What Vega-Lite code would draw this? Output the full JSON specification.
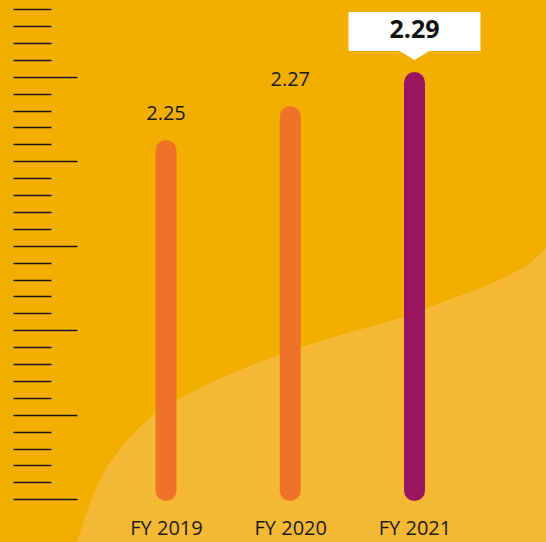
{
  "$schema": "https://vega.github.io/schema/vega-lite/v6.json",
  "width": 546,
  "height": 542,
  "autosize": "none",
  "padding": 0,
  "background": "#F3AF00",
  "config": {"view": {"stroke": null}, "font": "Open Sans"},
  "datasets": {
    "bars": [
      {"year": "FY 2019", "value": 2.25},
      {"year": "FY 2020", "value": 2.27},
      {"year": "FY 2021", "value": 2.29}
    ],
    "wave": [
      {"wx": 77, "wh": 0}, {"wx": 90, "wh": 39}, {"wx": 100, "wh": 62}, {"wx": 117, "wh": 89},
      {"wx": 137, "wh": 112}, {"wx": 157, "wh": 130}, {"wx": 177, "wh": 142}, {"wx": 210, "wh": 159},
      {"wx": 247, "wh": 175}, {"wx": 293, "wh": 192}, {"wx": 340, "wh": 207}, {"wx": 403, "wh": 225},
      {"wx": 440, "wh": 239}, {"wx": 475, "wh": 252}, {"wx": 507, "wh": 266}, {"wx": 530, "wh": 279},
      {"wx": 546, "wh": 294}
    ],
    "ruler": [
      {"k": 0}, {"k": 1}, {"k": 2}, {"k": 3}, {"k": 4}, {"k": 5}, {"k": 6}, {"k": 7}, {"k": 8}, {"k": 9},
      {"k": 10}, {"k": 11}, {"k": 12}, {"k": 13}, {"k": 14}, {"k": 15}, {"k": 16}, {"k": 17}, {"k": 18}, {"k": 19},
      {"k": 20}, {"k": 21}, {"k": 22}, {"k": 23}, {"k": 24}, {"k": 25}, {"k": 26}, {"k": 27}, {"k": 28}, {"k": 29}
    ]
  },
  "layer": [
    {
      "data": {"name": "wave"},
      "mark": {"type": "area", "color": "#F5B935", "interpolate": "monotone"},
      "encoding": {
        "x": {"field": "wx", "type": "quantitative", "scale": {"domain": [0, 546], "nice": false, "zero": false}, "axis": null},
        "y": {"field": "wh", "type": "quantitative", "scale": {"domain": [0, 542], "nice": false}, "axis": null},
        "y2": {"datum": 0}
      }
    },
    {
      "data": {"name": "ruler"},
      "mark": {"type": "rule", "opacity": 0},
      "encoding": {
        "y": {
          "field": "k", "type": "quantitative",
          "scale": {"domain": [-2.527, 29.544], "nice": false, "zero": false},
          "axis": {
            "orient": "right", "offset": -533, "title": null, "zindex": 1,
            "values": [0,1,2,3,4,5,6,7,8,9,10,11,12,13,14,15,16,17,18,19,20,21,22,23,24,25,26,27,28,29],
            "labels": false, "domain": false, "grid": false, "ticks": true,
            "tickColor": "#1a1a1a", "tickWidth": 1.6,
            "tickSize": {"condition": {"test": "datum.value % 5 === 0", "value": 64}, "value": 38}
          }
        }
      }
    },
    {
      "data": {"name": "bars"},
      "encoding": {
        "x": {
          "field": "year", "type": "ordinal",
          "scale": {"type": "point", "range": [166, 414.5], "padding": 0},
          "axis": {
            "orient": "bottom", "offset": -14, "title": null, "domain": false, "ticks": false, "zindex": 1,
            "tickSize": 0, "labelPadding": 0, "labelBaseline": "middle", "labelAngle": 0,
            "labelFont": "Open Sans", "labelFontSize": 20, "labelColor": "#1a1a1a"
          }
        },
        "y": {
          "field": "value", "type": "quantitative",
          "scale": {"domain": [2.0197, 2.3385], "nice": false, "zero": false},
          "axis": null
        }
      },
      "layer": [
        {
          "mark": {"type": "rule", "strokeWidth": 21, "strokeCap": "round"},
          "encoding": {
            "y2": {"datum": 2.05},
            "color": {"condition": {"test": "datum.year === 'FY 2021'", "value": "#9B1460"}, "value": "#EE7328"}
          }
        },
        {
          "transform": [{"filter": "datum.year !== 'FY 2021'"}],
          "mark": {"type": "text", "dy": -36, "baseline": "middle", "fontSize": 20, "font": "Open Sans", "color": "#1a1a1a"},
          "encoding": {"text": {"field": "value", "type": "quantitative", "format": ".2f"}}
        },
        {
          "transform": [{"filter": "datum.year === 'FY 2021'"}],
          "mark": {
            "type": "point", "filled": true, "color": "#FFFFFF", "opacity": 1, "strokeWidth": 0,
            "size": 17424, "yOffset": -51,
            "shape": "M-1,-0.2955H1V0.2955H0.227L0,0.4318L-0.227,0.2955H-1Z"
          }
        },
        {
          "transform": [{"filter": "datum.year === 'FY 2021'"}],
          "mark": {"type": "text", "dy": -52, "baseline": "middle", "fontSize": 25, "fontWeight": "bold", "font": "Open Sans", "color": "#111111"},
          "encoding": {"text": {"field": "value", "type": "quantitative", "format": ".2f"}}
        }
      ]
    }
  ],
  "resolve": {"scale": {"x": "independent", "y": "independent"}, "axis": {"x": "independent", "y": "independent"}}
}
